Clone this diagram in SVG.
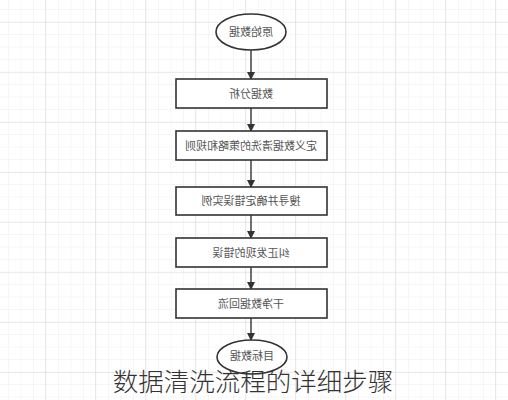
<svg xmlns="http://www.w3.org/2000/svg" width="508" height="400" viewBox="0 0 508 400">
<defs>
<pattern id="minor" x="8" y="9" width="12.5" height="12.5" patternUnits="userSpaceOnUse">
<path d="M0 0 H12.5 M0 0 V12.5" stroke="#ededed" stroke-width="1" fill="none"/>
</pattern>
<pattern id="major" x="45" y="22" width="50" height="50" patternUnits="userSpaceOnUse">
<path d="M0 0 H50 M0 0 V50" stroke="#dedede" stroke-width="1.2" fill="none"/>
</pattern>
<marker id="arr" markerWidth="8" markerHeight="8" refX="7" refY="4" orient="auto" markerUnits="userSpaceOnUse">
<path d="M0 0 L8 4 L0 8 Z" fill="#333"/>
</marker>
</defs>
<style>
.box{fill:#fff;stroke:#333;stroke-width:1.6}
.lbl{font-family:"Noto Sans CJK SC","Noto Sans",sans-serif;font-size:11px;fill:#555;text-anchor:middle}
.con{stroke:#333;stroke-width:1.4;fill:none;marker-end:url(#arr)}
.title{font-family:"Noto Sans CJK SC","Noto Sans",sans-serif;font-size:25.5px;font-weight:300;fill:#333;text-anchor:middle}
</style>
<rect width="508" height="400" fill="#fff"/>
<rect width="508" height="400" fill="url(#minor)"/>
<rect width="508" height="400" fill="url(#major)"/>
<g id="connectors">
<path class="con" d="M251 50 V79"/>
<path class="con" d="M251 108 V131"/>
<path class="con" d="M251 160 V187"/>
<path class="con" d="M251 215 V238"/>
<path class="con" d="M251 267 V289"/>
<path class="con" d="M251 318 V340"/>
</g>
<g id="start">
<ellipse class="box" cx="251" cy="32" rx="35" ry="18"/>
<text class="lbl" transform="translate(251 36) scale(-1 1)">原始数据</text>
</g>
<g id="n1">
<rect class="box" x="176" y="79" width="151" height="29"/>
<text class="lbl" transform="translate(251 97.5) scale(-1 1)">数据分析</text>
</g>
<g id="n2">
<rect class="box" x="176" y="131" width="151" height="29"/>
<text class="lbl" transform="translate(251 149.5) scale(-1 1)">定义数据清洗的策略和规则</text>
</g>
<g id="n3">
<rect class="box" x="176" y="187" width="151" height="28"/>
<text class="lbl" transform="translate(251 205) scale(-1 1)">搜寻并确定错误实例</text>
</g>
<g id="n4">
<rect class="box" x="176" y="238" width="151" height="29"/>
<text class="lbl" transform="translate(251 256.5) scale(-1 1)">纠正发现的错误</text>
</g>
<g id="n5">
<rect class="box" x="176" y="289" width="151" height="29"/>
<text class="lbl" transform="translate(251 307.5) scale(-1 1)">干净数据回流</text>
</g>
<g id="end">
<ellipse class="box" cx="252" cy="357" rx="35" ry="17"/>
<text class="lbl" transform="translate(252 359.5) scale(-1 1)">目标数据</text>
</g>
<text class="title" x="253" y="391">数据清洗流程的详细步骤</text>
</svg>
